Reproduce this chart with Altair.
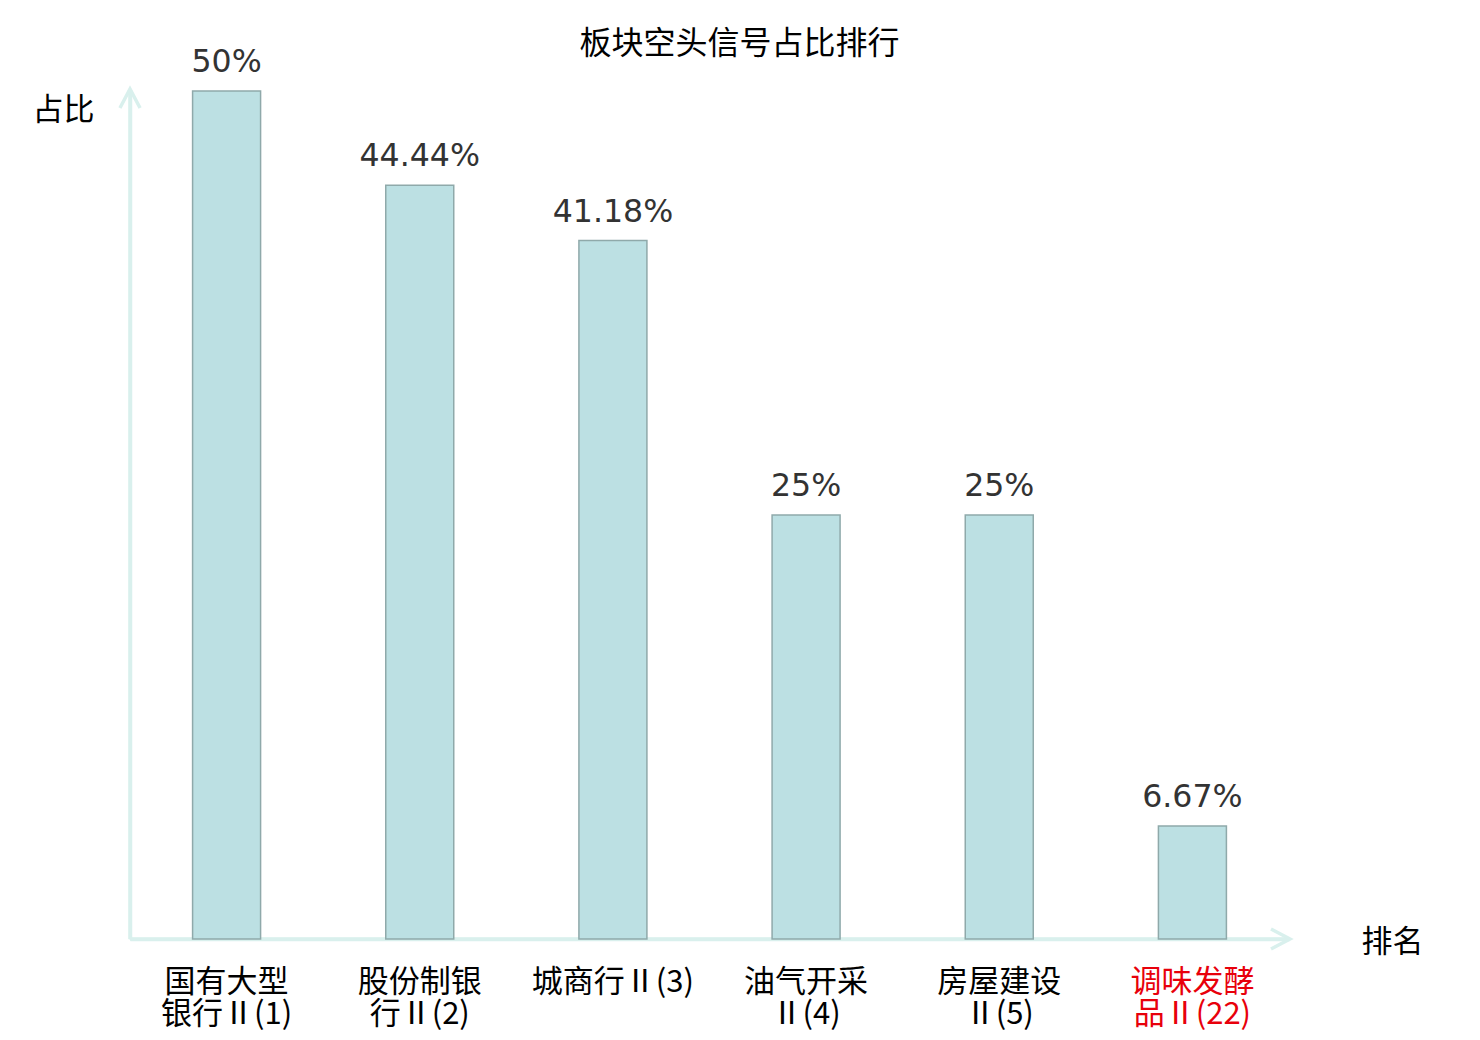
import altair as alt
import pandas as pd

categories = ["国有大型\n银行Ⅱ(1)", "股份制银\n行Ⅱ(2)", "城商行Ⅱ(3)",
              "油气开采\nⅡ(4)", "房屋建设\nⅡ(5)", "调味发酵\n品Ⅱ(22)"]
values = [50, 44.44, 41.18, 25, 25, 6.67]
highlight = "调味发酵\n品Ⅱ(22)"

df = pd.DataFrame({"cat": categories, "v": values})

CJK = "Noto Sans CJK SC"
AX = "#d9f0ed"

x = alt.X("cat:N", sort=None,
          scale=alt.Scale(paddingInner=0, paddingOuter=0),
          axis=alt.Axis(title="排名", titleAngle=0, titleX=1262, titleY=3,
                        titleAlign="center", titleBaseline="middle",
                        titleFont=CJK, titleFontSize=31, titleFontWeight="normal",
                        titleColor="#000",
                        labelExpr="split(datum.label, '\\n')",
                        labelAngle=0, labelFont=CJK, labelFontSize=31,
                        labelLineHeight=32, labelPadding=28, labelBaseline="top",
                        labelColor={"condition": {"test": f"datum.value == {highlight!r}".replace("\n", "\\n"),
                                                  "value": "#e8000b"}, "value": "#000"},
                        ticks=False, domainColor=AX, domainWidth=3.5))
y = alt.Y("v:Q", scale=alt.Scale(domain=[0, 50], nice=False),
          axis=alt.Axis(title="占比", titleAngle=0, titleX=-67, titleY=19,
                        titleAlign="center", titleBaseline="middle",
                        titleFont=CJK, titleFontSize=31, titleFontWeight="normal",
                        titleColor="#000",
                        labels=False, ticks=False, grid=False,
                        domainColor=AX, domainWidth=3.5))

bars = alt.Chart(df).mark_bar(size=68, fill="#bce0e3", stroke="#8fa9aa",
                              strokeWidth=1.5).encode(x=x, y=y)

labels = alt.Chart(df).transform_calculate(
    lab="format(datum.v, '.2~f') + '%'"
).mark_text(dy=-19, baseline="alphabetic", font="DejaVu Sans", fontSize=31.6,
            color="#333").encode(x=alt.X("cat:N", sort=None), y="v:Q", text="lab:N")

arrow_y = alt.Chart(df.head(1)).mark_point(
    shape="M-0.53,1L0,0L0.53,1", filled=False, size=1444, stroke=AX, strokeWidth=3.5,
    opacity=1).encode(x=alt.value(0), y=alt.value(-2))
arrow_x = alt.Chart(df.head(1)).mark_point(
    shape="M-1,-0.53L0,0L-1,0.53", filled=False, size=1444, stroke=AX, strokeWidth=3.5,
    opacity=1).encode(x=alt.value(1160), y=alt.value(848))
yline = alt.Chart(df.head(1)).mark_rule(stroke=AX, strokeWidth=3.5).encode(
    x=alt.value(0), y=alt.value(-2), y2=alt.value(848))
xline = alt.Chart(df.head(1)).mark_rule(stroke=AX, strokeWidth=3.5).encode(
    x=alt.value(0), x2=alt.value(1160), y=alt.value(848))

chart = alt.layer(yline, xline, bars, labels, arrow_y, arrow_x).properties(
    width=1159, height=848,
    autosize=alt.AutoSizeParams(type="none"),
    padding={"left": 122, "top": 83, "right": 183, "bottom": 93},
    title=alt.TitleParams("板块空头信号占比排行", font=CJK, fontSize=32,
                          fontWeight="normal", color="#000", anchor="middle",
                          dx=30, offset=0, dy=14),
).configure_view(stroke=None)

chart.save("out.html", embed_options={"renderer": "svg", "actions": False})
